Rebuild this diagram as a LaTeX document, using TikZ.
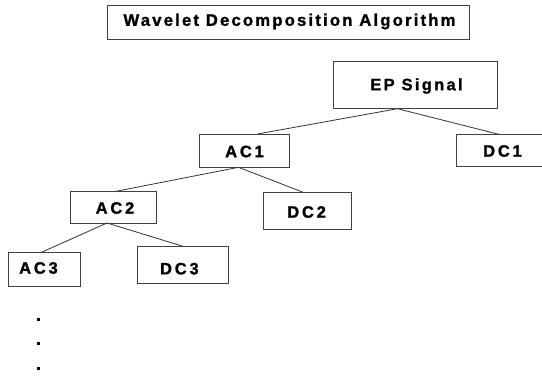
\documentclass[tikz,border=0pt]{standalone}
\usepackage{fontspec}
\setmainfont{Liberation Sans}
\newfontfamily\lblfont[LetterSpace=17,BoldFeatures={FakeBold=1.2}]{Liberation Sans}
\newfontfamily\epfont[LetterSpace=14,BoldFeatures={FakeBold=1.2}]{Liberation Sans}
\newfontfamily\ttlfont[LetterSpace=13,BoldFeatures={FakeBold=1.2}]{Liberation Sans}
\usetikzlibrary{calc}
\begin{document}
\begin{tikzpicture}[x=1pt,y=-1pt,
  box/.style={draw=black!75,line width=1pt,anchor=north west,inner sep=0pt,outer sep=0pt},
  lbl/.style={inner sep=0pt,font=\lblfont\bfseries\fontsize{16.5}{18}\selectfont},
  eplbl/.style={inner sep=0pt,font=\epfont\bfseries\fontsize{16.5}{18}\selectfont},
  ttl/.style={inner sep=0pt,font=\ttlfont\bfseries\fontsize{16.7}{18}\selectfont},
  conn/.style={draw=black!80,line width=0.8pt},
  dotmark/.style={fill=black,inner sep=0pt,minimum size=3pt}]
\fill[white] (0,0) rectangle (542,376);
\useasboundingbox (0,0) rectangle (542,376);
% title
\node[box,minimum width=362.2pt,minimum height=34.3pt] (tbox) at (107.5,5) {};
\node[ttl] (ttxt) at (289.5,21.5) {Wavelet Decomposition Algorithm};
% boxes
\node[box,minimum width=164.1pt,minimum height=47.4pt] (ep) at (333.6,61.3) {};
\node[box,minimum width=90.3pt,minimum height=33.3pt] (ac1) at (199.4,134) {};
\node[box,minimum width=103.4pt,minimum height=32.2pt] (dc1) at (456.6,134.5) {};
\node[box,minimum width=85.7pt,minimum height=31.3pt] (ac2) at (70.5,191.7) {};
\node[box,minimum width=88.5pt,minimum height=37.3pt] (dc2) at (263,192) {};
\node[box,minimum width=71.6pt,minimum height=33.7pt] (ac3) at (8.6,252.3) {};
\node[box,minimum width=90.5pt,minimum height=37.4pt] (dc3) at (137.6,246.3) {};
% labels
\node[eplbl] (eptxt) at (416.5,86) {EP Signal};
\node[lbl] (ac1txt) at (244.5,151.5) {AC1};
\node[lbl] (dc1txt) at (502.5,151) {DC1};
\node[lbl] (ac2txt) at (115,208) {AC2};
\node[lbl] (dc2txt) at (306.6,212) {DC2};
\node[lbl] (ac3txt) at (38.5,268) {AC3};
\node[lbl] (dc3txt) at (179.4,268.7) {DC3};
% connectors
\draw[conn] ($(ep.south west)+(63.9,0)$) -- ($(ac1.north west)+(58.1,0)$);
\draw[conn] ($(ep.south west)+(63.9,0)$) -- ($(dc1.north west)+(42.9,0)$);
\draw[conn] ($(ac1.south west)+(39.1,0)$) -- ($(ac2.north west)+(43.5,0)$);
\draw[conn] ($(ac1.south west)+(39.1,0)$) -- ($(dc2.north west)+(39.5,0)$);
\draw[conn] ($(ac2.south west)+(36.5,0)$) -- ($(ac3.north west)+(32.9,0)$);
\draw[conn] ($(ac2.south west)+(36.5,0)$) -- ($(dc3.north west)+(45.4,0)$);
% dots
\node[dotmark] (d1) at (38.3,319) {};
\node[dotmark] (d2) at (38.3,343.3) {};
\node[dotmark] (d3) at (38.3,368.3) {};
\end{tikzpicture}
\end{document}
